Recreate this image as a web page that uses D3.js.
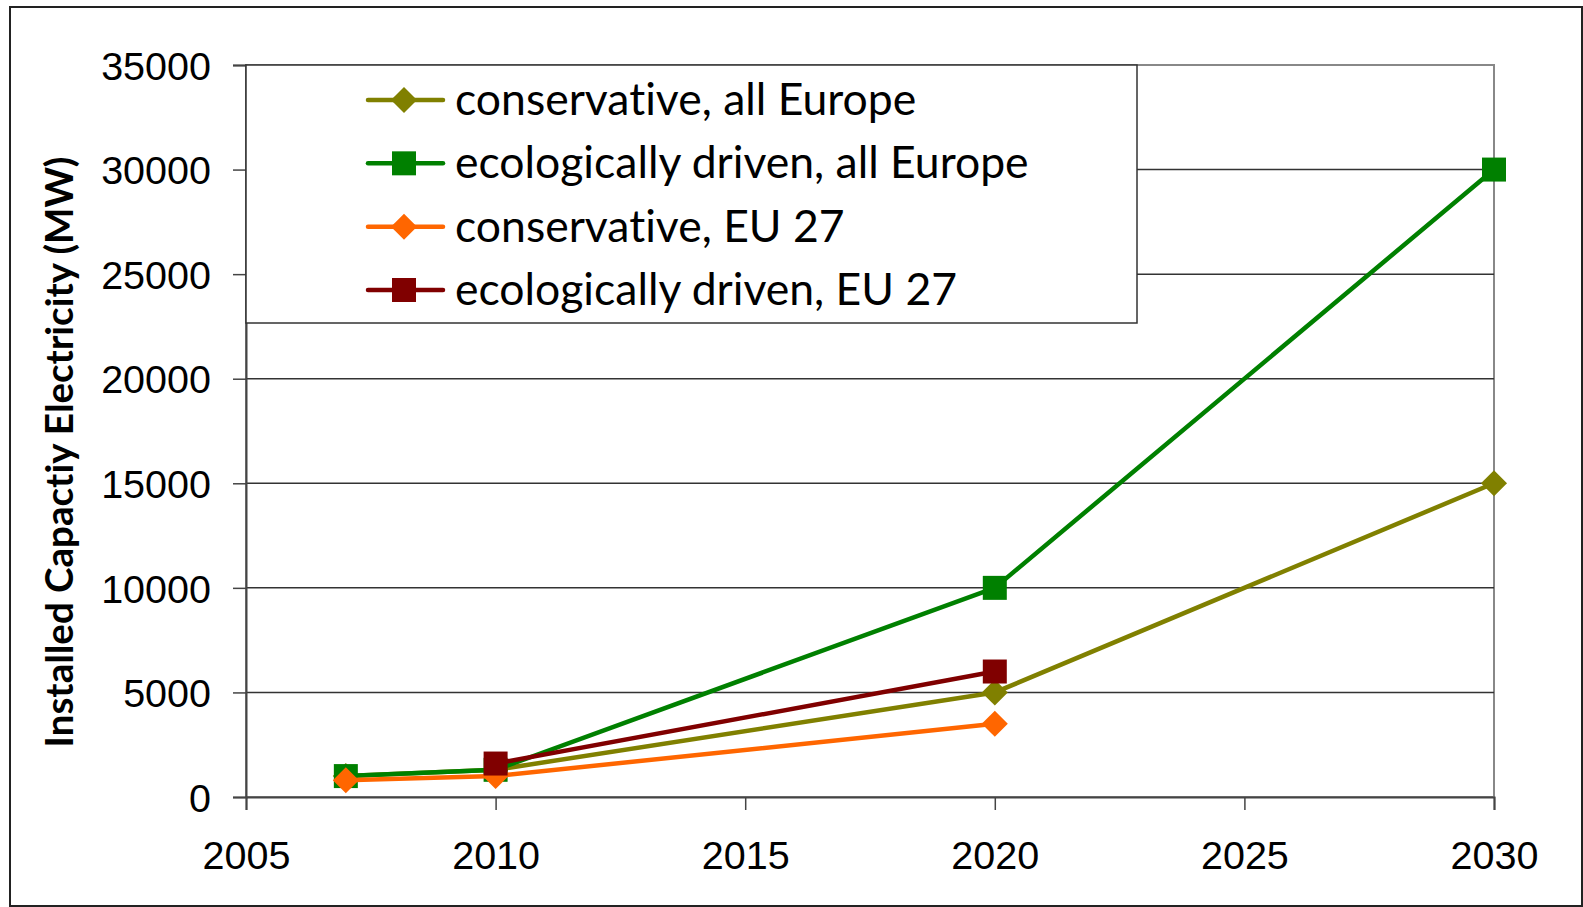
<!DOCTYPE html>
<html>
<head>
<meta charset="utf-8">
<title>Installed capacity</title>
<script src="https://cdn.jsdelivr.net/npm/d3@7"></script>
<style>
 body { margin: 0; background: #fff; }
 .tick text { font-family: "Liberation Sans", Arial, sans-serif; font-size: 39.5px; fill: #000; }
 .legend text { font-family: Lato, "Open Sans", sans-serif; font-size: 44.5px; fill: #000; font-variant-ligatures: none; }
</style>
</head>
<body>
<script>
 // data
 var years = [2007, 2010, 2020, 2030];
 var seriesNames = ["conservative, all Europe", "ecologically driven, all Europe", "conservative, EU 27", "ecologically driven, EU 27"];
 var consAll = [1000, 1300, 5000, 15000];
 var ecoAll = [1000, 1300, 10000, 30000];
 var consEU = [800, 1000, 3500, null];
 var ecoEU = [null, 1600, 6000, null];
 var yTicks = [0, 5000, 10000, 15000, 20000, 25000, 30000, 35000];
 var xTicks = [2005, 2010, 2015, 2020, 2025, 2030];

 var colors = ["#808000", "#008000", "#ff6600", "#800000"];
 var shapes = ["diamond", "square", "diamond", "square"];
 var allValues = [consAll, ecoAll, consEU, ecoEU];

 var w = 1583, h = 907;
 var pLeft = 246, pRight = 1494, pTop = 65, pBottom = 797;

 var svg = d3.select("body").append("svg")
     .attr("width", w).attr("height", h);

 // outer frame
 svg.append("rect")
    .attr("x", 10).attr("y", 7).attr("width", 1572).attr("height", 899)
    .attr("fill", "none").attr("stroke", "#222").attr("stroke-width", 2);

 var x = d3.scaleLinear().domain([2005, 2030]).range([pLeft, pRight]);
 var y = d3.scaleLinear().domain([0, 35000]).range([pBottom, pTop]);

 // plot border
 svg.append("rect")
    .attr("x", pLeft).attr("y", pTop)
    .attr("width", pRight - pLeft).attr("height", pBottom - pTop)
    .attr("fill", "none").attr("stroke", "#888").attr("stroke-width", 2);

 // gridlines
 svg.append("g").selectAll("line")
    .data(yTicks.filter(function(d){ return d > 0 && d < 35000; }))
    .enter().append("line")
    .attr("x1", pLeft).attr("x2", pRight)
    .attr("y1", function(d){ return y(d); })
    .attr("y2", function(d){ return y(d); })
    .attr("stroke", "#333").attr("stroke-width", 1.5);

 var yAxis = svg.append("g")
     .attr("transform", "translate(" + pLeft + ",0)")
     .call(d3.axisLeft(y).tickValues(yTicks).tickSize(13).tickPadding(22).tickFormat(d3.format("d")));
 yAxis.select(".domain").attr("stroke", "#444").attr("stroke-width", 2);
 yAxis.selectAll(".tick line").attr("stroke", "#444").attr("stroke-width", 1.5);
 yAxis.selectAll("text").attr("dy", "0.36em");

 var xAxis = svg.append("g")
     .attr("transform", "translate(0," + pBottom + ")")
     .call(d3.axisBottom(x).tickValues(xTicks).tickSize(13).tickFormat(d3.format("d")));
 xAxis.select(".domain").attr("stroke", "#444").attr("stroke-width", 2);
 xAxis.selectAll(".tick line").attr("stroke", "#444").attr("stroke-width", 1.5);
 xAxis.selectAll("text").attr("y", 72).attr("dy", 0);

 // y axis title
 svg.append("text")
    .attr("transform", "translate(73,452) rotate(-90)")
    .attr("text-anchor", "middle")
    .style("font-family", "Lato, 'Open Sans', sans-serif")
    .style("font-weight", "bold")
    .style("font-size", "38.5px")
    .style("font-variant-ligatures", "none")
    .text("Installed Capactiy Electricity (MW)");

 function markerPath(shape) {
     if (shape == "square") return d3.symbol().type(d3.symbolSquare).size(576)();
     return d3.symbol().type(d3.symbolSquare).size(340)();
 }
 function markerRot(shape) { return shape == "diamond" ? " rotate(45)" : ""; }

 // series
 for (var i = 0; i < allValues.length; i++) {
     var pts = years.map(function(yr, j){ return {year: yr, value: allValues[i][j]}; })
                    .filter(function(d){ return d.value != null; });
     var line = d3.line()
         .x(function(d){ return x(d.year); })
         .y(function(d){ return y(d.value); });
     var g = svg.append("g");
     g.append("path")
      .attr("d", line(pts))
      .attr("fill", "none")
      .attr("stroke", colors[i])
      .attr("stroke-width", 4.5)
      .attr("stroke-linejoin", "round");
     g.selectAll("path.m")
      .data(pts).enter().append("path")
      .attr("class", "m")
      .attr("d", markerPath(shapes[i]))
      .attr("transform", function(d){ return "translate(" + x(d.year) + "," + y(d.value) + ")" + markerRot(shapes[i]); })
      .attr("fill", colors[i]);
 }

 // legend
 var legend = svg.append("g").attr("class", "legend");
 legend.append("rect")
    .attr("x", pLeft).attr("y", pTop)
    .attr("width", 1137 - pLeft).attr("height", 323 - pTop)
    .attr("fill", "#fff").attr("stroke", "#333").attr("stroke-width", 1.5);

 var rowY = d3.scalePoint().domain(seriesNames).range([100, 290]);
 var items = legend.selectAll("g.item")
    .data(seriesNames).enter().append("g")
    .attr("class", "item")
    .attr("transform", function(d){ return "translate(0," + rowY(d) + ")"; });
 items.append("line")
    .attr("x1", 368).attr("x2", 443).attr("y1", 0).attr("y2", 0)
    .attr("stroke", function(d, i){ return colors[i]; })
    .attr("stroke-width", 4.5)
    .attr("stroke-linecap", "round");
 items.append("path")
    .attr("d", function(d, i){ return markerPath(shapes[i]); })
    .attr("transform", function(d, i){ return "translate(404,0)" + markerRot(shapes[i]); })
    .attr("fill", function(d, i){ return colors[i]; });
 items.append("text")
    .attr("x", 455).attr("y", 15)
    .text(function(d){ return d; });
</script>
</body>
</html>
